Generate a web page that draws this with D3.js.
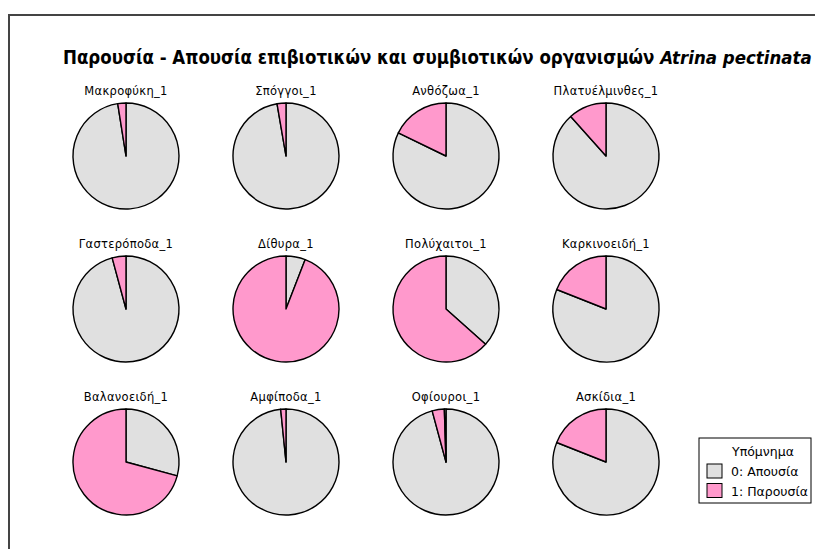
<!DOCTYPE html>
<html>
<head>
<meta charset="utf-8">
<script src="https://cdn.jsdelivr.net/npm/d3@7"></script>
<style>
  body { margin: 0; background: #fff; }
  text { font-family: "DejaVu Sans", Verdana, sans-serif; fill: #000; }
</style>
</head>
<body>
<div id="chart"></div>
<script>
// taxa shown, one pie each (row by row)
const taxa = ["Μακροφύκη_1", "Σπόγγοι_1", "Ανθόζωα_1", "Πλατυέλμινθες_1",
              "Γαστερόποδα_1", "Δίθυρα_1", "Πολύχαιτοι_1", "Καρκινοειδή_1",
              "Βαλανοειδή_1", "Αμφίποδα_1", "Οφίουροι_1", "Ασκίδια_1"];

// percent of samples per value
const absent  = [97.5, 97.3, 82.2, 88.4, 95.8,  5.9, 36.6, 81.0, 29.2, 98.4, 95.8, 81.0];
const present = [ 2.5,  2.7, 17.8, 11.6,  4.2, 94.1, 63.4, 19.0, 70.8,  1.6,  3.7, 19.0];
const other   = [ 0,    0,    0,    0,    0,    0,    0,    0,    0,    0,    0.5,  0  ];

const legendTitle = "Υπόμνημα";
const legendLabels = ["0: Απουσία", "1: Παρουσία"];
const colors = ["#e0e0e0", "#ff99cc", "#e0e0e0"];

const width = 815, height = 549;

const svg = d3.select("#chart").append("svg")
  .attr("width", width)
  .attr("height", height);

// outer frame (top + left edge only visible)
svg.append("path")
  .attr("d", `M9,${height} V15 H${width}`)
  .attr("fill", "none")
  .attr("stroke", "#444")
  .attr("stroke-width", 2);

// title
const title = svg.append("text")
  .attr("x", 63)
  .attr("y", 64)
  .attr("font-family", "'DejaVu Sans Condensed', 'DejaVu Sans', sans-serif")
  .attr("font-stretch", "condensed")
  .attr("font-size", 18)
  .attr("font-weight", "bold");
title.append("tspan").text("Παρουσία - Απουσία επιβιοτικών και συμβιοτικών οργανισμών ");
title.append("tspan").attr("font-style", "italic").text("Atrina pectinata");
// fit to the width used in the reference
const tw = title.node().getComputedTextLength();
title.attr("font-size", 18 * 749 / tw);

// grid of pies
const cols = 4;
const xPos = d3.scaleLinear().domain([0, cols - 1]).range([126, 606]);
const yPos = d3.scaleLinear().domain([0, 2]).range([156, 462]);
const r = 53;

const pie = d3.pie().sort(null).value(d => d);
const arc = d3.arc().innerRadius(0).outerRadius(r);

const cells = svg.selectAll("g.cell")
  .data(taxa.map((name, i) => ({ name, vals: [absent[i], present[i], other[i]] })))
  .join("g")
  .attr("class", "cell")
  .attr("transform", (d, i) => `translate(${xPos(i % cols)},${yPos(Math.floor(i / cols))})`);

cells.append("text")
  .attr("y", -r - 8)
  .attr("text-anchor", "middle")
  .attr("font-size", 11.5)
  .attr("letter-spacing", 0.3)
  .text(d => d.name);

cells.selectAll("path")
  .data(d => pie(d.vals).filter(s => s.data > 0))
  .join("path")
  .attr("d", arc)
  .attr("fill", d => colors[d.index])
  .attr("stroke", "#000")
  .attr("stroke-width", 1.4)
  .attr("stroke-linejoin", "round");

// legend
const lg = svg.append("g").attr("transform", "translate(699,438)");
lg.append("rect")
  .attr("width", 112).attr("height", 65)
  .attr("fill", "#fff").attr("stroke", "#000");
lg.append("text")
  .attr("x", 64).attr("y", 18)
  .attr("text-anchor", "middle")
  .attr("font-size", 12.5)
  .text(legendTitle);
legendLabels.forEach((lab, i) => {
  lg.append("rect")
    .attr("x", 8).attr("y", 26 + i * 19.5)
    .attr("width", 15).attr("height", 14)
    .attr("fill", colors[i]).attr("stroke", "#000");
  lg.append("text")
    .attr("x", 32).attr("y", 38 + i * 19.5)
    .attr("font-size", 12.5)
    .text(lab);
});
</script>
</body>
</html>
